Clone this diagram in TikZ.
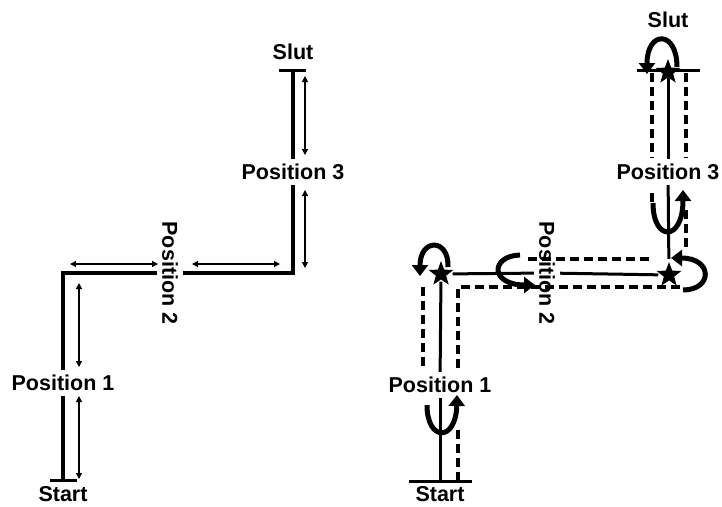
\documentclass[tikz,border=0pt]{standalone}
\usepackage{fontspec}
\setmainfont{Liberation Sans}
\usetikzlibrary{arrows.meta,shapes.geometric}
\tikzset{
    track/.style = {line width=4pt},
    rtrack/.style = {line width=3pt},
    bar/.style = {line width=3pt},
    aid/.style = {line width=1.2pt,{Triangle[length=6pt,width=6pt]}-{Triangle[length=6pt,width=6pt]}},
    route/.style = {line width=3.2pt,dash pattern=on 9pt off 5pt},
    turn/.style = {line width=5pt,-{Triangle[length=11pt,width=16pt]}},
    waypoint/.style = {star,star points=5,star point ratio=2.4,fill=black,minimum size=26pt,inner sep=0pt},
    lbl/.style = {font=\fontsize{21.5}{25}\selectfont\bfseries,inner sep=5pt}
}

\begin{document}
\begin{tikzpicture}[x=1pt,y=-1pt]
    \useasboundingbox (0,0) rectangle (722,506);

    % left: the track
    \coordinate (s1) at (63,480);
    \coordinate (c1) at (63,273);
    \coordinate (c2) at (293,273);
    \coordinate (e1) at (293,70);
    \node (S1) [lbl] at (63,494) {Start};
    \node (P1) [lbl] at (63,383) {Position 1};
    \node (P2) [lbl,rotate=-90] at (170,273) {Position 2};
    \node (P3) [lbl] at (293,172) {Position 3};
    \node (E1) [lbl] at (293,52) {Slut};

    \draw[bar] (50,480) -- (77,480);
    \draw[bar] (279,70) -- (306,70);
    \draw[track] (s1) -- (P1);
    \draw[track] (P1) -- (c1) -- (P2);
    \draw[track] (P2) -- (c2) -- (P3);
    \draw[track] (P3) -- (e1);

    \draw[aid] (79,283) -- (79,367);
    \draw[aid] (79,396) -- (79,479);
    \draw[aid] (70,264) -- (158,264);
    \draw[aid] (192,264) -- (280,264);
    \draw[aid] (305,76) -- (305,155);
    \draw[aid] (305,190) -- (305,268);

    % right: the route
    \coordinate (s2) at (440,481);
    \node (S2) [lbl] at (440,494) {Start};
    \node (Q1) [lbl] at (440,385) {Position 1};
    \node (Q2) [lbl,rotate=-90] at (547,273) {Position 2};
    \node (Q3) [lbl] at (668,172) {Position 3};
    \node (E2) [lbl] at (668,20) {Slut};
    \node (A) [waypoint] at (441,274) {};
    \node (B) [waypoint] at (669,275) {};
    \node (C) [waypoint] at (668,72) {};

    \draw[bar] (409,481) -- (472,481);
    \draw[bar] (637,70) -- (700,70);
    \draw[rtrack] (s2) -- (Q1);
    \draw[rtrack,shorten >=2pt] (Q1) -- (A);
    \draw[rtrack,shorten <=4pt] (A) -- (Q2);
    \draw[rtrack,shorten >=3pt] (Q2) -- (B);
    \draw[rtrack,shorten <=3pt] (B) -- (Q3);
    \draw[rtrack] (Q3) -- (C);

    \draw[route] (458,481) -- (458,430);
    \draw[route] (458,368) -- (458,287) -- (683,287);
    \draw[route] (423,287) -- (423,368);
    \draw[route] (528,259) -- (652,259);
    \draw[route] (652,73) -- (652,158);
    \draw[route] (686,73) -- (686,158);
    \draw[route] (652,193) -- (652,202);
    \draw[route] (686,210) -- (686,250);

    \draw[turn] (677,67) .. controls (677,30) and (647,30) .. (647,74);
    \draw[turn] (448,267) .. controls (449,238) and (420,238) .. (420,276);
    \draw[turn] (520,255) .. controls (490,256) and (490,285) .. (535,285);
    \draw[turn] (427,405) .. controls (427,442) and (456,442) .. (457,395);
    \draw[turn] (653,203) .. controls (653,242) and (683,242) .. (683,190);
    \draw[turn] (683,290) .. controls (713,290) and (713,258) .. (671,258);
\end{tikzpicture}
\end{document}
